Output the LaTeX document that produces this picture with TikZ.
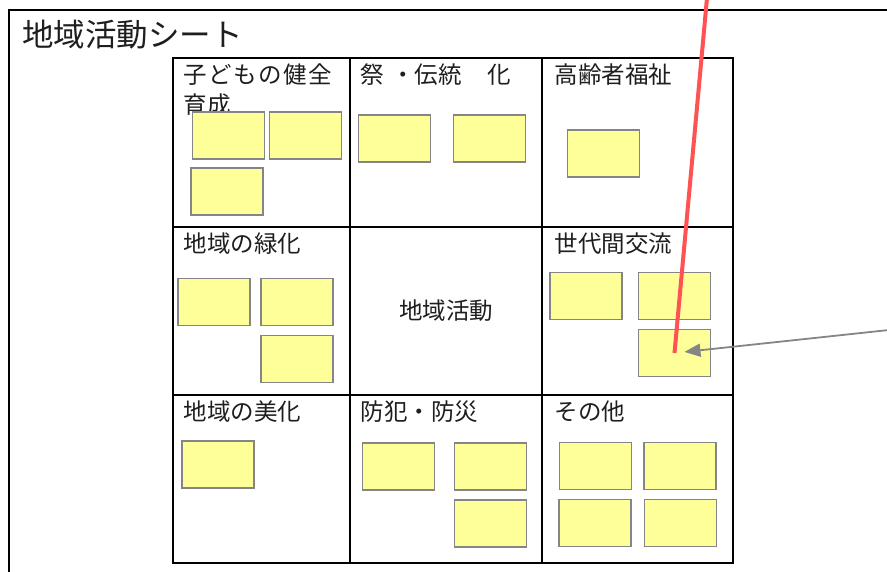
\documentclass[tikz,border=0pt]{standalone}
\usepackage{fontspec}
\setmainfont{Noto Sans CJK JP}
\usetikzlibrary{arrows.meta,positioning}
\definecolor{stickyfill}{HTML}{FFFF99}
\definecolor{stickyline}{HTML}{858585}
\definecolor{pinred}{HTML}{FF5353}
\definecolor{inkgray}{HTML}{1E1E1E}
\tikzset{
  cell/.style 2 args={draw, line width=2.7pt, minimum width=#1pt, minimum height=#2pt, inner sep=0pt},
  celltitle/.style={text=inkgray, inner sep=0pt, align=left, font=\fontsize{23.5}{30}\selectfont},
  sticky/.style={draw=stickyline, fill=stickyfill, line width=1.6pt, minimum width=72pt, minimum height=47pt, inner sep=0pt},
}
\begin{document}
\begin{tikzpicture}[x=1pt, y=-1pt]
    \useasboundingbox (0,0) rectangle (887,572);

    % sheet frame and title
    \draw[line width=2pt] (9,572) -- (9,10) -- (887,10);
    \node[anchor=west, inner sep=0pt, text=inkgray, font=\fontsize{31.5}{34}\selectfont] (sheettitle) at (22,35) {地域活動シート};

    % grid of cells
    \node[cell={177}{169}] (c11) at (261.5,142.5) {};
    \node[cell={192}{169}] (c12) at (446,142.5) {};
    \node[cell={191}{169}] (c13) at (637.5,142.5) {};
    \node[cell={177}{168}] (c21) at (261.5,311) {};
    \node[cell={192}{168}] (c22) at (446,311) {};
    \node[cell={191}{168}] (c23) at (637.5,311) {};
    \node[cell={177}{168}] (c31) at (261.5,479) {};
    \node[cell={192}{168}] (c32) at (446,479) {};
    \node[cell={191}{168}] (c33) at (637.5,479) {};

    % cell titles
    \node[celltitle, below right=7pt and 12pt of c11.north west] (t11) {\addfontfeature{LetterSpace=6}子どもの健全\\育成};
    \node[celltitle, below right=7pt and 12pt of c12.north west] (t12) {祭\hspace{7pt}・伝統\hspace{26pt}化};
    \node[celltitle, below right=7pt and 14pt of c13.north west] (t13) {高齢者福祉};
    \node[celltitle, below right=7pt and 12pt of c21.north west] (t21) {地域の緑化};
    \node[celltitle] (t22) at (c22.center) {地域活動};
    \node[celltitle, below right=7pt and 14pt of c23.north west] (t23) {世代間交流};
    \node[celltitle, below right=7pt and 12pt of c31.north west] (t31) {地域の美化};
    \node[celltitle, below right=7pt and 12pt of c32.north west] (t32) {防犯・防災};
    \node[celltitle, below right=7pt and 14pt of c33.north west] (t33) {その他};

    % sticky notes
    \node[sticky] (s11a) at (228.5,135.5) {};
    \node[sticky] (s11b) at (305.5,135.5) {};
    \node[sticky] (s11c) at (227,191.5) {};
    \node[sticky] (s12a) at (394.5,138.5) {};
    \node[sticky] (s12b) at (489.5,138.5) {};
    \node[sticky] (s13a) at (603.5,153.5) {};
    \node[sticky] (s21a) at (214,302) {};
    \node[sticky] (s21b) at (297,302) {};
    \node[sticky] (s21c) at (297,359) {};
    \node[sticky] (s23a) at (586,296) {};
    \node[sticky] (s23b) at (674.5,296) {};
    \node[sticky] (s23c) at (674.5,353) {};
    \node[sticky] (s31a) at (218,464.5) {};
    \node[sticky] (s32a) at (398.5,466.5) {};
    \node[sticky] (s32b) at (490.5,466.5) {};
    \node[sticky] (s32c) at (490.5,523.5) {};
    \node[sticky] (s33a) at (595.5,466) {};
    \node[sticky] (s33b) at (680,466) {};
    \node[sticky] (s33c) at (595,523) {};
    \node[sticky] (s33d) at (680.5,523) {};

    % pointer lines
    \coordinate (redtop) at (707,-2);
    \coordinate (grayend) at (889,330);
    \draw[pinred, line width=4pt] (redtop) -- (s23c.center);
    \draw[stickyline, line width=1.8pt, -{Triangle[length=16pt, width=13pt]}, shorten >=10pt] (grayend) -- (s23c.center);
\end{tikzpicture}
\end{document}
